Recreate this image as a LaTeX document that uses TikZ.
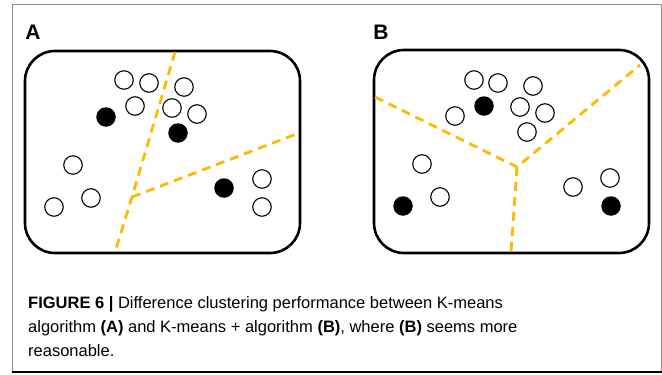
\documentclass[tikz,border=0pt]{standalone}
\usepackage{fontspec}
\setmainfont{Liberation Sans}
\definecolor{splitline}{RGB}{255,186,0}
\definecolor{framegray}{RGB}{140,140,140}

\begin{document}
\begin{tikzpicture}[x=1pt,y=-1pt,line join=round]
  \tikzset{
    panel/.style={draw=black,line width=2.6pt,rounded corners=30pt},
    sample/.style={circle,draw=black,line width=1.1pt,fill=white,minimum size=18.5pt,inner sep=0pt},
    centroid/.style={circle,fill=black,minimum size=19.5pt,inner sep=0pt},
    border/.style={line width=2.8pt,splitline,dash pattern=on 9pt off 6pt},
    tag/.style={font=\fontsize{21}{21}\selectfont\bfseries,anchor=base},
    capline/.style={font=\fontsize{16.5}{24}\selectfont,anchor=base west,inner sep=0pt}
  }
  \useasboundingbox (0,0) rectangle (662,375);

  % outer frame
  \draw[framegray,line width=1pt] (12,372) -- (12,4) -- (661,4) -- (661,372);
  \draw[black,line width=1.6pt] (12,372) -- (662,372);

  %%% panel A: k-means
  \node[tag] (tagA) at (33,39) {A};
  \draw[panel] (25,51) rectangle (300,253);
  \coordinate (aTop) at (175,52);
  \coordinate (aMid) at (132,197);
  \coordinate (aBot) at (115,252);
  \coordinate (aRight) at (299,133);
  \draw[border] (aTop) -- (aMid) -- (aBot);
  \draw[border] (aMid) -- (aRight);
  \foreach \p [count=\i] in {(124,80),(149,83),(184,87),(135,106),(172,108),(197,114),
                             (73,165),(91,198),(54,207),(262,179),(262,207)}
    \node[sample] (a\i) at \p {};
  \node[centroid] (ac1) at (106,117) {};
  \node[centroid] (ac2) at (178,133) {};
  \node[centroid] (ac3) at (224,188) {};

  %%% panel B: k-means++
  \node[tag] (tagB) at (381,39) {B};
  \draw[panel] (374,50) rectangle (649,253);
  \coordinate (bMid) at (517,167);
  \coordinate (bLeft) at (375,97);
  \coordinate (bRight) at (640,65);
  \coordinate (bBot) at (511,252);
  \draw[border] (bLeft) -- (bMid) -- (bRight);
  \draw[border] (bMid) -- (bBot);
  \foreach \p [count=\i] in {(474,80),(498,83),(533,86),(455,116),(520,107),(545,113),
                             (527,132),(422,164),(440,197),(573,187),(610,178)}
    \node[sample] (b\i) at \p {};
  \node[centroid] (bc1) at (484,106) {};
  \node[centroid] (bc2) at (403,206) {};
  \node[centroid] (bc3) at (611,206) {};

  % caption
  \node[capline] (cap1) at (28,308) {\textbf{FIGURE 6 |} Difference clustering performance between K-means};
  \node[capline] (cap2) at (28,332) {algorithm \textbf{(A)} and K-means + algorithm \textbf{(B)}, where \textbf{(B)} seems more};
  \node[capline] (cap3) at (28,356) {reasonable.};
\end{tikzpicture}
\end{document}
